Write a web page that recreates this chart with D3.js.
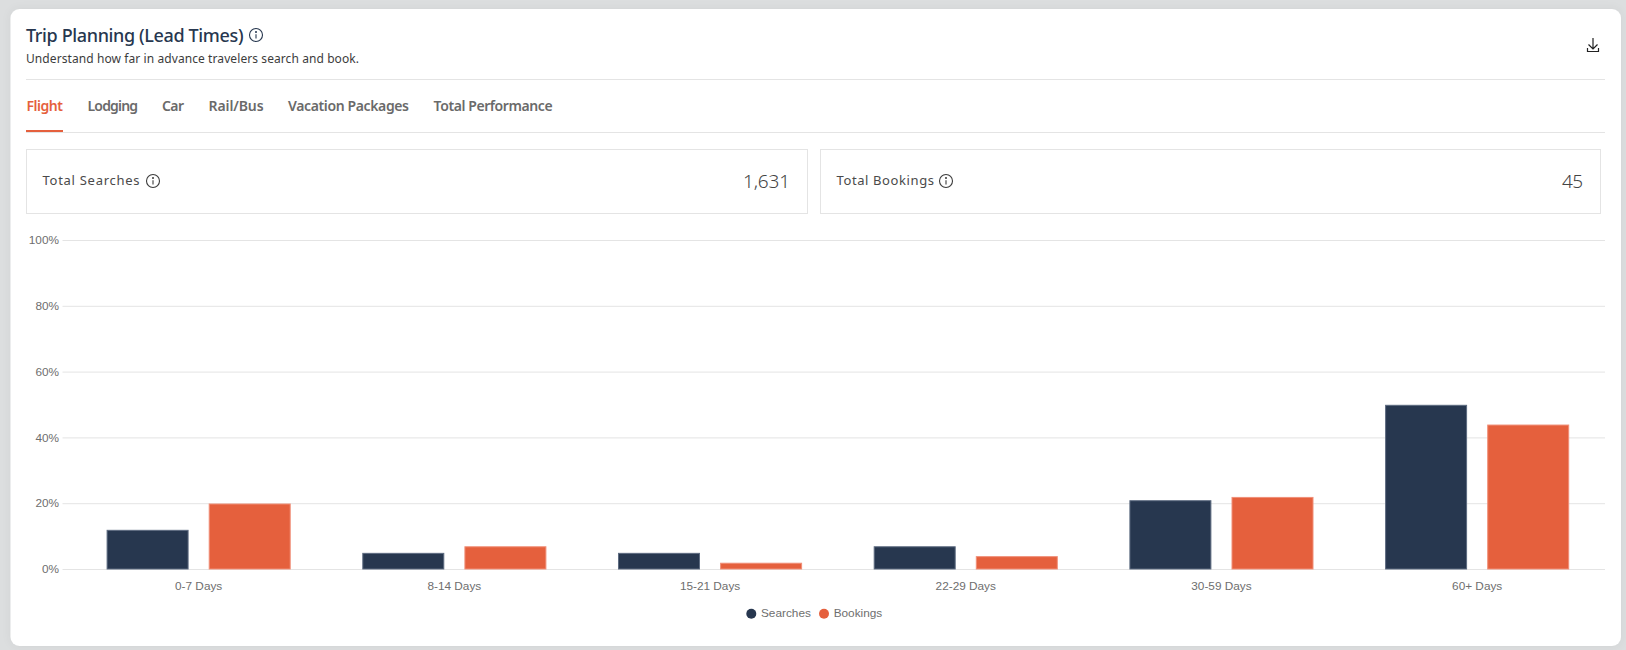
<!DOCTYPE html>
<html>
<head>
<meta charset="utf-8">
<script src="https://cdn.jsdelivr.net/npm/d3@7"></script>
<style>
  html, body { margin: 0; padding: 0; background: #dcdedf; overflow: hidden; }
  svg { display: block; }
  .plex { font-family: "Noto Sans", sans-serif; }
  .chart-text { font-family: "Liberation Sans", Arial, sans-serif; font-size: 11.8px; fill: #6e6e6e; }
</style>
</head>
<body>
<div id="chart"></div>
<script>
const categories = ['0-7 Days', '8-14 Days', '15-21 Days', '22-29 Days', '30-59 Days', '60+ Days'];
const seriesNames = ['Searches', 'Bookings'];
const searches = [12, 5, 5, 7, 21, 50];
const bookings = [20, 7, 2, 4, 22, 44];
const yTicks = [0, 20, 40, 60, 80, 100];
const tabs = ['Flight', 'Lodging', 'Car', 'Rail/Bus', 'Vacation Packages', 'Total Performance'];

const colors = { Searches: '#27374f', Bookings: '#e5603d' };
const borders = { Searches: '#5d6b80', Bookings: '#f08f78' };

const W = 1626, H = 650;
const svg = d3.select('#chart').append('svg').attr('width', W).attr('height', H);

// card
const defs = svg.append('defs');
const shadow = defs.append('filter').attr('id', 'shadow')
  .attr('x', '-2%').attr('y', '-4%').attr('width', '104%').attr('height', '108%');
shadow.append('feDropShadow').attr('dx', 0).attr('dy', 0).attr('stdDeviation', 4)
  .attr('flood-color', '#000').attr('flood-opacity', 0.06);

svg.append('rect').attr('x', 10.5).attr('y', 9).attr('width', 1610.5).attr('height', 637)
  .attr('rx', 9).attr('fill', '#fff').attr('filter', 'url(#shadow)');

// text with a fixed width, the app's webfont is not installed here
function label(x, y, str, size, weight, fill, width, anchor) {
  const t = svg.append('text').attr('class', 'plex')
    .attr('x', x).attr('y', y)
    .attr('font-size', size).attr('font-weight', weight)
    .attr('fill', fill).attr('text-anchor', anchor || 'start')
    .text(str);
  if (width) t.attr('textLength', width).attr('lengthAdjust', 'spacing');
  return t;
}

function infoIcon(cx, cy, r, color) {
  const g = svg.append('g').attr('transform', `translate(${cx},${cy})`)
    .attr('fill', 'none').attr('stroke', color).attr('stroke-width', 1.1);
  g.append('circle').attr('r', r);
  g.append('line').attr('y1', -0.8).attr('y2', r * 0.55);
  g.append('circle').attr('cy', -r * 0.45).attr('r', 0.45).attr('fill', color);
}

function hline(x1, x2, y, color) {
  svg.append('line').attr('x1', x1).attr('x2', x2).attr('y1', y).attr('y2', y)
    .attr('stroke', color || '#e4e4e4').attr('stroke-width', 1);
}

// header
label(26, 42, 'Trip Planning (Lead Times)', 18, 500, '#27374f', 217.5);
infoIcon(256, 35, 6.5, '#27374f');
label(26, 63, 'Understand how far in advance travelers search and book.', 12, 400, '#3c3c3c', 333);
hline(26, 1605, 79.5);

const dl = svg.append('g').attr('fill', 'none').attr('stroke', '#222').attr('stroke-width', 1.2);
dl.append('path').attr('d', 'M1593 38V49M1588.5 44.5L1593 49L1597.5 44.5');
dl.append('path').attr('d', 'M1587.5 48V51.5H1598.5V48');

// tabs
const tabX = [26.4, 87.5, 162, 208.6, 288, 433.6];
const tabW = [36.6, 50.5, 22, 55, 121, 119];
tabs.forEach((d, i) => {
  label(tabX[i], 111, d, 14, 600, i === 0 ? '#e5603d' : '#6a6a6a', tabW[i]);
});
hline(26, 1605, 132.5);
svg.append('rect').attr('x', 26).attr('y', 130).attr('width', 37).attr('height', 2).attr('fill', '#e5603d');

// stat boxes
function statBox(x, w, name, nameW, value, valueW, iconX) {
  svg.append('rect').attr('x', x + 0.5).attr('y', 149.5).attr('width', w).attr('height', 64)
    .attr('fill', '#fff').attr('stroke', '#e4e4e4');
  label(x + 16.5, 185, name, 13, 400, '#4a4a4a', nameW);
  infoIcon(iconX, 181, 6.5, '#3c3c3c');
  label(x + w - 17, 188, value, 19, 300, '#444', valueW, 'end');
}
statBox(26, 781, 'Total Searches', 97, '1,631', 47, 153);
statBox(820, 780, 'Total Bookings', 97.5, '45', 21, 946);

// chart
const x0 = d3.scaleBand().domain(categories).range([70.8, 1605])
  .paddingInner(0.28).paddingOuter(0.14);
const x1 = d3.scaleBand().domain(seriesNames).range([0, x0.bandwidth()]).paddingInner(0.197);
const y = d3.scaleLinear().domain([0, 100]).range([569, 240]);

const yAxis = svg.append('g').attr('transform', 'translate(70,0)')
  .call(d3.axisLeft(y).tickValues(yTicks).tickFormat(d => d + '%').tickSize(0).tickPadding(11));
yAxis.select('.domain').remove();
yAxis.selectAll('text').attr('class', 'chart-text').attr('font-size', null).attr('font-family', null);
yAxis.selectAll('.tick line')
  .attr('x1', -7.5).attr('x2', 1535)
  .attr('stroke', '#e4e4e4');

const xAxis = svg.append('g').attr('transform', 'translate(0,569)')
  .call(d3.axisBottom(x0).tickSize(0).tickPadding(13));
xAxis.select('.domain').remove();
xAxis.selectAll('text').attr('class', 'chart-text').attr('font-size', null).attr('font-family', null);

const rows = categories.map((c, i) => ({ c, Searches: searches[i], Bookings: bookings[i] }));

svg.append('g').selectAll('g')
  .data(rows)
  .join('g')
  .attr('transform', d => `translate(${x0(d.c)},0)`)
  .selectAll('rect')
  .data(d => seriesNames.map(s => ({ s, v: d[s] })))
  .join('rect')
  .attr('x', d => x1(d.s) + 0.5)
  .attr('y', d => y(d.v) + 0.8)
  .attr('width', x1.bandwidth() - 1)
  .attr('height', d => y(0) - y(d.v) - 0.8)
  .attr('fill', d => colors[d.s])
  .attr('stroke', d => borders[d.s])
  .attr('stroke-width', 1);

// legend
const legendDot = [751.3, 824];
const legendText = [761, 833.7];
seriesNames.forEach((s, i) => {
  svg.append('circle').attr('cx', legendDot[i]).attr('cy', 613.7).attr('r', 5).attr('fill', colors[s]);
  svg.append('text').attr('class', 'chart-text').attr('x', legendText[i]).attr('y', 617).text(s);
});
</script>
</body>
</html>
